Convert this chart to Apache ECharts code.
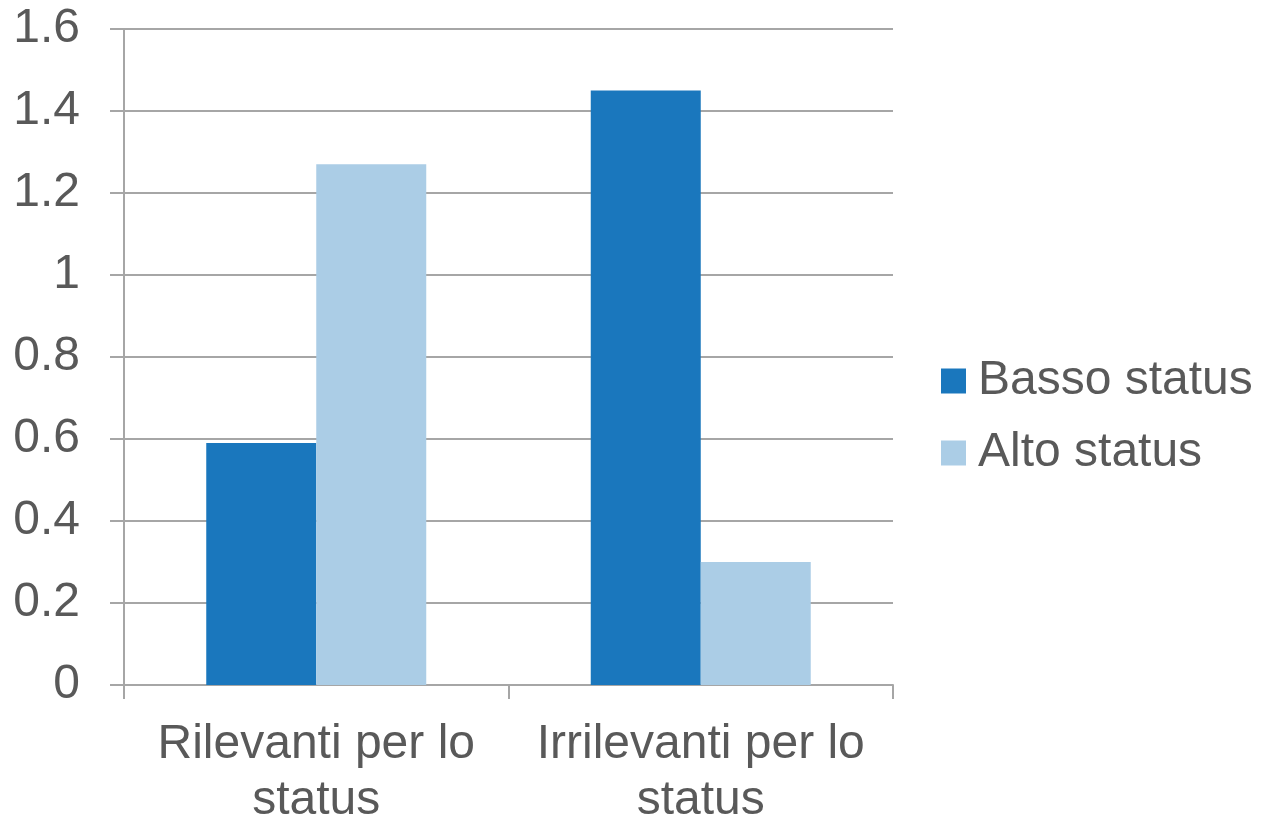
<!DOCTYPE html>
<html><head><meta charset="utf-8">
<script src="https://cdn.jsdelivr.net/npm/echarts@6/dist/echarts.min.js"></script>
<style>html,body{margin:0;padding:0;background:#fff;overflow:hidden}#c{width:1268px;height:816px}</style>
</head><body><div id="c"></div>
<script>
const categories = ["Rilevanti per lo\nstatus", "Irrilevanti per lo\nstatus"];
const seriesNames = ["Basso status", "Alto status"];
const basso = [0.59, 1.45];
const alto = [1.27, 0.30];
const yTicks = {min: 0, max: 1.6, interval: 0.2};

const chart = echarts.init(document.getElementById('c'), null, {renderer: 'canvas', width: 1268, height: 816});
const font = 'Liberation Sans, Arial, sans-serif';
const textColor = '#595959';
const lineColor = '#a6a6a6';
chart.setOption({
  animation: false,
  backgroundColor: '#fff',
  grid: {left: 124, top: 29, width: 769, height: 656, containLabel: false, outerBoundsMode: 'none'},
  legend: {
    orient: 'vertical', left: 941, top: 357, padding: 0,
    itemWidth: 25, itemHeight: 25, itemGap: 24,
    icon: 'rect',
    textStyle: {fontFamily: font, fontSize: 48, color: textColor, padding: [0,0,0,7]},
    data: seriesNames
  },
  xAxis: {
    type: 'category', data: categories,
    axisLine: {lineStyle: {color: lineColor, width: 2}},
    axisTick: {show: true, length: 14, lineStyle: {color: lineColor, width: 2}},
    axisLabel: {fontFamily: font, fontSize: 48, color: textColor, lineHeight: 56, margin: 32, interval: 0}
  },
  yAxis: {
    type: 'value', min: yTicks.min, max: yTicks.max, interval: yTicks.interval,
    axisLine: {show: true, lineStyle: {color: lineColor, width: 2}},
    axisTick: {show: true, length: 14, lineStyle: {color: lineColor, width: 2}},
    splitLine: {lineStyle: {color: lineColor, width: 2}},
    axisLabel: {fontFamily: font, fontSize: 48, color: textColor, margin: 44,
      formatter: v => String(Math.round(v*10)/10)}
  },
  series: [
    {name: seriesNames[0], type: 'bar', data: basso, barWidth: 110, barGap: '0%', itemStyle: {color: '#1a77bd'}},
    {name: seriesNames[1], type: 'bar', data: alto, barWidth: 110, barGap: '0%', itemStyle: {color: '#abcde6'}}
  ]
});
</script></body></html>
